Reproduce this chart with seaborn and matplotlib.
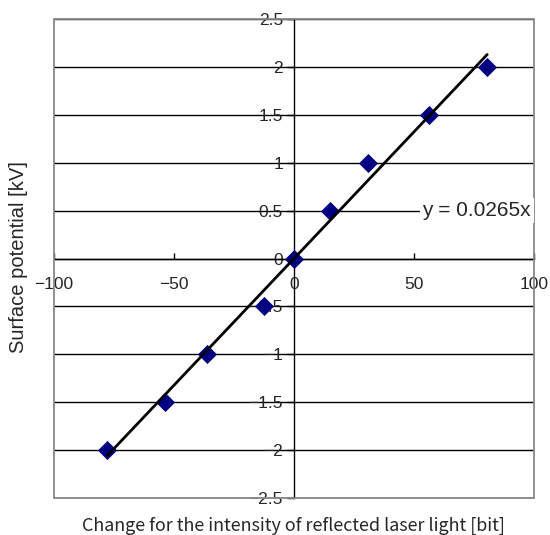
import matplotlib
matplotlib.use("Agg")
import matplotlib.pyplot as plt
import seaborn as sns
import pandas as pd
import numpy as np
from matplotlib.patches import Rectangle

# Data
change_bit = [-77.9, -53.6, -36.4, -12.5, 0.0, 15.0, 30.9, 56.4, 80.5]
potential_kv = [-2.0, -1.5, -1.0, -0.5, 0.0, 0.5, 1.0, 1.5, 2.0]
slope = 0.0265
x_ticks = [-100, -50, 0, 50, 100]
y_ticks = [-2.5, -2, -1.5, -1, -0.5, 0, 0.5, 1, 1.5, 2, 2.5]
x_tick_labels = ["\u2212100", "\u221250", "0", "50", "100"]
y_tick_labels = ["\u22122.5", "\u22122", "\u22121.5", "\u22121", "\u22120.5", "0", "0.5", "1", "1.5", "2", "2.5"]

sns.set_theme(style="white")
plt.rcParams['font.family'] = ['Liberation Sans', 'DejaVu Sans']

df = pd.DataFrame({"x": change_bit, "y": potential_kv})
xr = [min(change_bit), max(change_bit)]
trend = pd.DataFrame({"x": xr, "y": [slope * v for v in xr]})

fig = plt.figure(figsize=(5.5, 5.35), dpi=100)
ax = fig.add_axes([0.0982, 0.070, 0.8727, 0.8936])

sns.lineplot(data=trend, x="x", y="y", ax=ax, color="black", linewidth=2, zorder=4)
sns.scatterplot(data=df, x="x", y="y", ax=ax, marker="D", s=95, color="#000080",
                edgecolor="#000080", linewidth=0, zorder=3)

ax.set_xlim(-100, 100)
ax.set_ylim(-2.5, 2.5)
ax.set_xticks(x_ticks)
ax.set_xticklabels(x_tick_labels)
ax.set_yticks(y_ticks)
ax.set_yticklabels(y_tick_labels)

ax.spines['left'].set_position(('data', 0))
ax.spines['bottom'].set_position(('data', 0))
for s in ['left', 'bottom']:
    ax.spines[s].set_color('black')
    ax.spines[s].set_linewidth(1.0)
    ax.spines[s].set_zorder(2)
for s in ['top', 'right']:
    ax.spines[s].set_visible(False)

ax.grid(axis='y', color='black', linewidth=1.0, zorder=1)
ax.set_axisbelow(True)
border = Rectangle((0, 0), 1, 1, transform=ax.transAxes, fill=False,
                   edgecolor='#888888', linewidth=1.3, zorder=5, clip_on=False)
ax.add_patch(border)

ax.tick_params(axis='y', direction='out', length=5, width=1, color='black',
               labelsize=12.5, pad=3, left=True)
ax.tick_params(axis='x', direction='in', length=4, width=1, color='black',
               labelsize=12.5, pad=13, bottom=True)

ax.set_xlabel("")
ax.set_ylabel("")
fig.text(0.5333, 0.018, "Change for the intensity of reflected laser light [bit]",
         ha='center', va='center', fontsize=12.9,
         family=['Noto Sans CJK JP', 'DejaVu Sans'])
fig.text(0.033, 0.52, "Surface potential [kV]", rotation=90, ha='center', va='center',
         fontsize=14.5)

ax.text(53.5, 0.5, "y = 0.0265x", ha='left', va='center', fontsize=15,
        zorder=10, clip_on=False,
        bbox=dict(facecolor='white', edgecolor='none', pad=2))

fig.savefig("out.png", dpi=100)
